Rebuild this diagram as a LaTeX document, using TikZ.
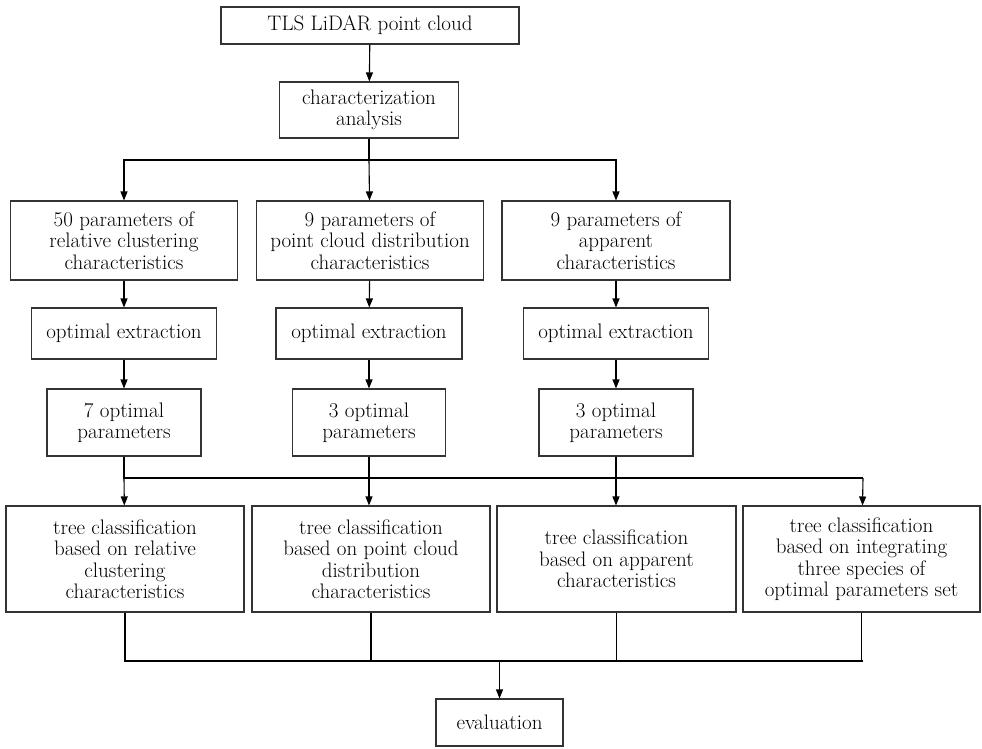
\documentclass[tikz,border=0pt]{standalone}
\usepackage{tikz}
\usetikzlibrary{arrows.meta}

\begin{document}
\begin{tikzpicture}[x=1pt,y=-1pt,
  box/.style={draw=black!80,line width=1.1pt,align=center,inner sep=2pt,
    font=\fontsize{21}{21.5}\selectfont},
  flow/.style={line width=1.1pt,-{Triangle[length=9pt,width=7pt]}},
  line/.style={line width=1.1pt}]
\useasboundingbox (0,0) rectangle (982,748);

\node[box,minimum width=298,minimum height=37] (tls) at (370,25.5) {TLS LiDAR point cloud};
\node[box,minimum width=179,minimum height=56] (char) at (369,110) {characterization\\analysis};

\node[box,minimum width=227,minimum height=79] (parA) at (124,240.5) {50 parameters of\\relative clustering\\characteristics};
\node[box,minimum width=227,minimum height=79] (parB) at (370,240.5) {9 parameters of\\point cloud distribution\\characteristics};
\node[box,minimum width=228,minimum height=79] (parC) at (616,240.5) {9 parameters of\\apparent\\characteristics};

\node[box,minimum width=185,minimum height=51] (extA) at (124,333.5) {optimal extraction};
\node[box,minimum width=186,minimum height=51] (extB) at (369,333.5) {optimal extraction};
\node[box,minimum width=185,minimum height=51] (extC) at (616,333.5) {optimal extraction};

\node[box,minimum width=154,minimum height=67] (optA) at (124,422.5) {7 optimal\\parameters};
\node[box,minimum width=153,minimum height=67] (optB) at (369,422.5) {3 optimal\\parameters};
\node[box,minimum width=154,minimum height=67] (optC) at (616,422.5) {3 optimal\\parameters};

\node[box,minimum width=238,minimum height=106] (clsA) at (125,559) {tree classification\\based on relative\\clustering\\characteristics};
\node[box,minimum width=238,minimum height=106] (clsB) at (371,559) {tree classification\\based on point cloud\\distribution\\characteristics};
\node[box,minimum width=239,minimum height=106] (clsC) at (616.5,559) {tree classification\\based on apparent\\characteristics};
\node[box,minimum width=237,minimum height=106] (clsD) at (861.5,559) {tree classification\\based on integrating\\three species of\\optimal parameters set};

\node[box,minimum width=127,minimum height=47] (eval) at (499.5,722.5) {evaluation};

% branch points
\coordinate (spl) at (369,160);
\coordinate (jA) at (124,478);
\coordinate (jD) at (863,478);
\coordinate (mA) at (124,661);
\coordinate (mD) at (863,661);
\coordinate (mE) at (499.5,661);

\draw[flow] (tls) -- (char);
\draw[line] (char) -- (spl);
\draw[flow] (spl) -| (parA);
\draw[flow] (spl) -- (parB);
\draw[flow] (spl) -| (parC);

\foreach \col in {A,B,C}
{
\draw[flow] (par\col) -- (ext\col);
\draw[flow] (ext\col) -- (opt\col);
}

\draw[line] (optA) -- (jA) -- (jD);
\draw[flow] (jA) -- (clsA);
\draw[flow] (optB) -- (optB |- clsB.north);
\draw[flow] (optC) -- (optC |- clsC.north);
\draw[flow] (jD) -- (clsD);

\draw[line] (mA) -- (mD);
\foreach \col in {A,B,C,D}
\draw[line] (cls\col) -- (cls\col |- mA);
\draw[flow] (mE) -- (eval);
\end{tikzpicture}
\end{document}
